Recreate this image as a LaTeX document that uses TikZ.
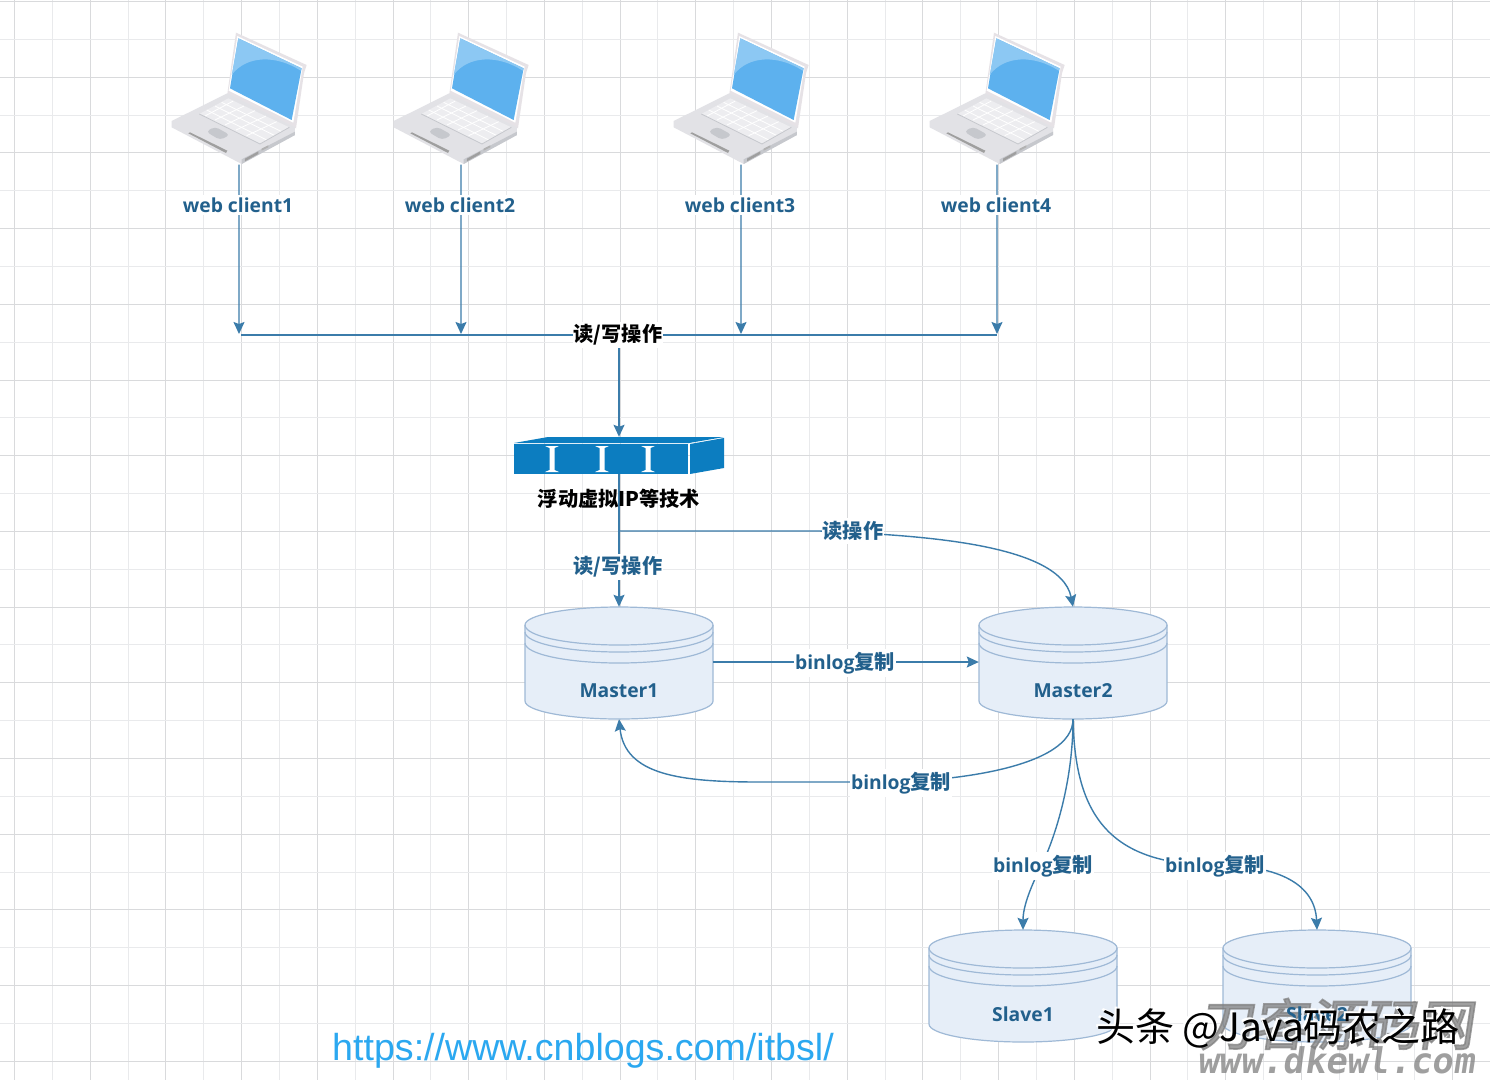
\documentclass[tikz,border=0pt]{standalone}
\usepackage{fontspec}
\setmainfont{Open Sans}
\newfontfamily\cjk{Noto Sans CJK SC}
\newfontfamily\cjkslant[FakeSlant=0.15,FakeBold=3]{Noto Sans CJK SC}
\newfontfamily\wwwfont[FakeSlant=0.15]{DejaVu Sans Mono}
\newfontfamily\urlfont{Liberation Sans}
\usetikzlibrary{arrows.meta}
\definecolor{gridmaj}{HTML}{D9DADC}
\definecolor{gridmin}{HTML}{E9EAEC}
\definecolor{conn}{HTML}{3B7CAA}
\definecolor{lab}{HTML}{22608C}
\definecolor{dbfill}{HTML}{E6EEF8}
\definecolor{dbline}{HTML}{9FB9D6}
\definecolor{swblue}{HTML}{0C7DC0}
\definecolor{scrn}{HTML}{5DB1EE}
\definecolor{scrnhi}{HTML}{8CC8F3}
\definecolor{lapbody}{HTML}{E2E2E6}
\definecolor{lapdark}{HTML}{C6C8CD}
\definecolor{lapkey}{HTML}{EDEDF0}
\definecolor{laplid}{HTML}{E6E2E6}
\tikzset{
 x=1pt,y=-1pt,
 conline/.style={draw=conn,line width=1.4pt},
 arr/.style={conline,-{Stealth[width=11pt,length=12pt,inset=2pt]}},
 lbl/.style={text=lab,font=\fontsize{19.3}{24}\selectfont\bfseries,fill=white,inner xsep=1pt,inner ysep=3pt},
 cjklbl/.style={lbl,font=\fontsize{20.2}{24}\selectfont\cjk\bfseries},
 blk/.style={cjklbl,text=black},
 dbnode/.style={minimum width=188pt,minimum height=112pt,inner sep=0pt},
 dbpath/.style={draw=dbline,line width=1.2pt},
 wm/.style={text=black!50,inner sep=0pt,opacity=0.75},
 toutiao/.style={font=\fontsize{39}{39}\selectfont\cjk,inner sep=0pt},
}
\newcommand{\dbshape}[4]{% name, cx, top y, label
 \begin{scope}[shift={(#2,#3)}]
 \path[fill=dbfill,dbpath] (-94,18) arc[start angle=180,end angle=360,x radius=94,y radius=18] -- (94,94) arc[start angle=0,end angle=180,x radius=94,y radius=18] -- cycle;
 \draw[dbpath] (-94,18) arc[start angle=180,end angle=0,x radius=94,y radius=20];
 \draw[dbpath] (-94,25) arc[start angle=180,end angle=0,x radius=94,y radius=20];
 \draw[dbpath] (-94,36) arc[start angle=180,end angle=0,x radius=94,y radius=20];
 \node[dbnode] (#1) at (0,56) {};
 \end{scope}}
\newcommand{\dblabel}[4]{%
 \node[text=lab,font=\fontsize{19.3}{24}\selectfont\bfseries,inner sep=0pt] (#1) at (#2,#3) {#4};}
\newcommand{\laptop}[2]{% name, dx
 \begin{scope}[shift={(150+#2,20)},x=0.3333pt,y=-0.3333pt]
 \fill[laplid] (258,38) -- (470,135) -- (462,160) -- (438,325) -- (232,222) -- cycle;
 \fill[white] (262,48) -- (458,140) -- (430,308) -- (236,212) -- cycle;
 \fill[scrn] (265,55) -- (455,145) -- (425,300) -- (240,205) -- cycle;
 \fill[scrnhi] (265,55) -- (455,145) -- (452,152) .. controls (380,105) and (290,105) .. (245,165) -- cycle;
 \fill[lapbody] (65,303) -- (232,220) -- (435,322) -- (435,345) -- (275,432) -- (65,322) -- cycle;
 \fill[lapdark] (275,418) -- (435,335) -- (435,345) -- (275,432) -- cycle;
 \fill[lapkey] (148,282) -- (235,235) -- (418,322) -- (330,372) -- cycle;
 \draw[white,line width=0.8pt] (165,288) -- (250,243) (195,300) -- (282,258) (225,315) -- (315,272) (258,330) -- (348,288) (290,347) -- (380,305);
 \draw[white,line width=0.8pt] (170,270) -- (350,360) (195,258) -- (375,347) (215,247) -- (395,335);
 \draw[lapdark,line width=0.8pt] (148,282) -- (330,372) -- (418,322);
 \fill[lapdark,rounded corners=4pt] (168,335) -- (195,320) -- (240,345) -- (210,360) -- cycle;
 \fill[gray!75] (115,340) -- (120,337) -- (232,392) -- (228,399) -- cycle;
 \fill[gray!75] (285,416) -- (325,394) -- (325,402) -- (285,424) -- cycle;
 \fill[gray!60] (335,386) -- (355,376) -- (355,382) -- (335,392) -- cycle;
 \node[minimum width=135pt,minimum height=132pt,inner sep=0pt] (#1) at (267,235) {};
 \end{scope}}
\begin{document}
\begin{tikzpicture}
\useasboundingbox (0,0) rectangle (1490,1080);
\fill[white] (0,0) rectangle (1490,1080);
% grid
\foreach \k in {0,2,...,38} {\draw[gridmaj,line width=1pt] ({14.5+37.85*\k},0) -- ({14.5+37.85*\k},1080);}
\foreach \k in {1,3,...,39} {\draw[gridmin,line width=1pt] ({14.5+37.85*\k},0) -- ({14.5+37.85*\k},1080);}
\foreach \k in {0,2,...,28} {\draw[gridmaj,line width=1pt] (0,{1.5+37.85*\k}) -- (1490,{1.5+37.85*\k});}
\foreach \k in {1,3,...,27} {\draw[gridmin,line width=1pt] (0,{1.5+37.85*\k}) -- (1490,{1.5+37.85*\k});}
% laptops
\laptop{c1}{0}
\laptop{c2}{222}
\laptop{c3}{502}
\laptop{c4}{758}
% bus
\coordinate (b1) at (239,334);
\coordinate (b2) at (461,334);
\coordinate (b3) at (741,334);
\coordinate (b4) at (997,334);
\coordinate (bm) at (619,335);
\draw[conline] ([xshift=2pt,yshift=-1pt]b1) -- ([yshift=-1pt]b4);
\draw[arr] (c1.south) -- (b1);
\draw[arr] (c2.south) -- (b2);
\draw[arr] (c3.south) -- (b3);
\draw[arr] (c4.south) -- (b4);
\node[lbl] (l1) at (238,205) {web client1};
\node[lbl] (l2) at (460,205) {web client2};
\node[lbl] (l3) at (740,205) {web client3};
\node[lbl] (l4) at (996,205) {web client4};
% switch
\fill[swblue] (514,443) -- (548,437) -- (724,437) -- (689,443) -- cycle;
\fill[swblue] (514,444) rectangle (688,474);
\fill[swblue] (690,444) -- (724,438) -- (724,468) -- (690,474) -- cycle;
\foreach \x in {552,602,648} {
 \fill[white] (\x-7,446) -- (\x+7,446) -- (\x+2.5,448) -- (\x+2.5,470) -- (\x+7,472) -- (\x-7,472) -- (\x-2.5,470) -- (\x-2.5,448) -- cycle;
}
\node[minimum width=210pt,minimum height=37pt,inner sep=0pt] (sw) at (619,455.5) {};
% connectors
\coordinate (split) at (619,531);
\draw[arr] (bm) -- (sw.north);
\draw[conline] (sw.south) -- (split);
% databases
\dbshape{m1}{619}{607}{Master1}
\dbshape{m2}{1073}{607}{Master2}
\dbshape{s1}{1023}{930}{Slave1}
\dbshape{s2}{1317}{930}{Slave2}
\draw[arr] (split) -- (m1.north);
\draw[arr] (split) -- (820,531) .. controls (900,535) and (1060,540) .. (m2.north);
\draw[arr] (m1.east |- 0,662) -- (m2.west |- 0,662);
\draw[arr] (m2.south) .. controls (1073,768) and (950,782) .. (880,782) -- (760,782) .. controls (680,782) and (625,775) .. (m1.south);
\draw[arr] (m2.south) .. controls (1073,790) and (1050,850) .. (1040,868) .. controls (1032,885) and (1023,905) .. (s1.north);
\draw[arr] (m2.south) .. controls (1075,810) and (1105,865) .. (1215,865) .. controls (1280,865) and (1315,885) .. (s2.north);
% labels
\node[blk] (n1) at (618,335) {读/写操作};
\node[blk,fill=none] (n2) at (619,498.5) {浮动虚拟IP等技术};
\node[cjklbl] (n3) at (618,567) {读/写操作};
\node[cjklbl] (n4) at (853,531) {读操作};
\node[lbl] (n5) at (845,663) {binlog{\fontsize{20.2}{24}\selectfont\cjk\bfseries 复制}};
\node[lbl] (n6) at (901,783) {binlog{\fontsize{20.2}{24}\selectfont\cjk\bfseries 复制}};
\node[lbl] (n7) at (1043,866) {binlog{\fontsize{20.2}{24}\selectfont\cjk\bfseries 复制}};
\node[lbl] (n8) at (1215,866) {binlog{\fontsize{20.2}{24}\selectfont\cjk\bfseries 复制}};
\dblabel{m1t}{619}{691}{Master1}
\dblabel{m2t}{1073}{691}{Master2}
\dblabel{s1t}{1023}{1014}{Slave1}
% watermarks
\node[wm,font=\fontsize{55}{55}\selectfont\cjkslant] (w1) at (1336,1024) {刀客源码网};
\dblabel{s2t}{1317}{1014}{Slave2}
\node[wm,font=\fontsize{35.4}{36}\selectfont\wwwfont\bfseries] (w2) at (1336,1060) {www.dkewl.com};
\node[font=\fontsize{37.6}{38}\selectfont\urlfont,inner sep=0pt,text={rgb,255:red,43;green,168;blue,240}] (u) at (583,1051) {https://www.cnblogs.com/itbsl/};
\node[toutiao,text=white] (h0) at (1276,1026.5) {头条 @Java码农之路};
\node[toutiao,text=black] (h) at (1278,1028.5) {头条 @Java码农之路};
\end{tikzpicture}
\end{document}
